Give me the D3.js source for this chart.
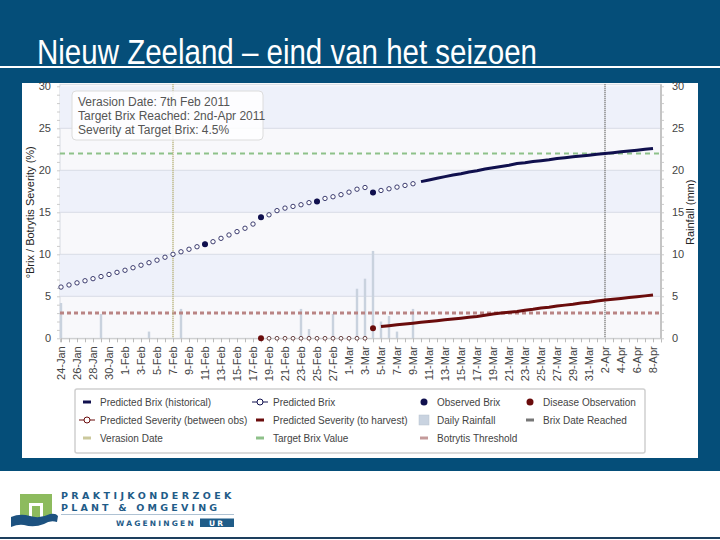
<!DOCTYPE html>
<html>
<head>
<meta charset="utf-8">
<script src="https://cdn.jsdelivr.net/npm/d3@7"></script>
<style>
body { margin: 0; background: #054e79; }
svg { display: block; font-family: "Liberation Sans", Arial, sans-serif; }
</style>
</head>
<body>
<script>
// series data
const predBrixStart = '2011-01-24';
const predBrix = [6.1, 6.35, 6.6, 6.85, 7.1, 7.35, 7.6, 7.85, 8.1, 8.4, 8.7, 9.0, 9.3, 9.65, 10.0,
  10.3, 10.6, 10.9, 11.2, 11.5, 11.9, 12.3, 12.7, 13.1, 13.6, 14.4, 14.7, 15.2, 15.5, 15.7,
  15.9, 16.15, 16.3, 16.65, 16.85, 17.1, 17.4, 17.75, 17.95, 17.35, 17.6, 17.8, 18.0, 18.2, 18.4];
const obsBrixDates = ['2011-02-11', '2011-02-18', '2011-02-25', '2011-03-04'];
const obsBrix = [11.2, 14.4, 16.3, 17.35];
const histBrixStart = '2011-03-10';
const histBrix = [18.65, 18.85, 19.05, 19.25, 19.45, 19.6, 19.8, 19.95, 20.15, 20.3,
  20.45, 20.6, 20.8, 20.9, 21.05, 21.15, 21.25, 21.4, 21.5, 21.6,
  21.7, 21.8, 21.9, 22.0, 22.1, 22.2, 22.3, 22.4, 22.5, 22.6];
const sevBetweenStart = '2011-02-19';
const sevBetween = [0, 0, 0, 0, 0, 0, 0, 0, 0, 0, 0, 0, 0];
const diseaseDates = ['2011-02-18', '2011-03-04'];
const diseaseSev = [0, 1.2];
const sevHarvestStart = '2011-03-05';
const sevHarvest = [1.4, 1.5, 1.6, 1.7, 1.8, 1.9, 2.0, 2.1, 2.2, 2.3, 2.4, 2.5, 2.6, 2.75, 2.9,
  3.0, 3.1, 3.2, 3.35, 3.45, 3.6, 3.7, 3.85, 3.95, 4.05, 4.2, 4.3, 4.45, 4.55, 4.65,
  4.75, 4.85, 4.95, 5.05, 5.15];
const rainDates = ['2011-01-24', '2011-01-29', '2011-02-04', '2011-02-08', '2011-02-23', '2011-02-24',
  '2011-02-27', '2011-03-02', '2011-03-03', '2011-03-04', '2011-03-05', '2011-03-06', '2011-03-07', '2011-03-09'];
const rainMm = [4.2, 2.9, 0.8, 3.5, 3.5, 1.1, 2.9, 5.9, 7.1, 10.4, 2.0, 2.65, 0.8, 3.5];
const verasionDate = '2011-02-07';
const brixReachedDate = '2011-04-02';
const targetBrix = 22;
const botrytisThreshold = 3;
const yTicks = [0, 5, 10, 15, 20, 25, 30];
const infoLines = ['Verasion Date: 7th Feb 2011', 'Target Brix Reached: 2nd-Apr 2011', 'Severity at Target Brix: 4.5%'];
const legendRows = [
  ['Predicted Brix (historical)', 'Predicted Brix', 'Observed Brix', 'Disease Observation'],
  ['Predicted Severity (between obs)', 'Predicted Severity (to harvest)', 'Daily Rainfall', 'Brix Date Reached'],
  ['Verasion Date', 'Target Brix Value', 'Botrytis Threshold']
];

const parse = d3.timeParse('%Y-%m-%d');
const daily = (start, vals) => vals.map((v, i) => [d3.timeDay.offset(parse(start), i), v]);

const W = 720, H = 540;
const blue = '#054e79';
const navy = '#10104e';
const darkRed = '#6a0c0c';

const svg = d3.select('body').append('svg').attr('width', W).attr('height', H);
svg.append('rect').attr('width', W).attr('height', H).attr('fill', blue);

// title
svg.append('text').attr('x', 37).attr('y', 64)
  .attr('font-size', 35).attr('fill', '#fff')
  .attr('textLength', 500).attr('lengthAdjust', 'spacingAndGlyphs')
  .text('Nieuw Zeeland \u2013 eind van het seizoen');
svg.append('rect').attr('x', 0).attr('y', 66).attr('width', W).attr('height', 2).attr('fill', '#fff');

// chart card
svg.append('rect').attr('x', 22).attr('y', 83).attr('width', 676).attr('height', 375).attr('fill', '#fff');

const x = d3.scaleTime()
  .domain([new Date(2011, 0, 23, 21), new Date(2011, 3, 9)])
  .range([60, 661]);
const y = d3.scaleLinear().domain([0, 30]).range([338.3, 86.3]);
const x0 = x.range()[0], x1 = x.range()[1];

const plot = svg.append('g');
plot.append('rect').attr('x', x0).attr('y', y(30) - 2).attr('width', x1 - x0).attr('height', y(0) - y(30) + 2)
  .attr('fill', '#f8f8fb').attr('stroke', '#d6dae2');
plot.selectAll('.band').data([5, 15, 25]).enter().append('rect')
  .attr('x', x0).attr('width', x1 - x0)
  .attr('y', d => y(d + 5)).attr('height', d => y(d) - y(d + 5))
  .attr('fill', '#eef1fa');
plot.selectAll('.grid').data(yTicks.slice(1, -1)).enter().append('line')
  .attr('x1', x0).attr('x2', x1).attr('y1', d => y(d)).attr('y2', d => y(d))
  .attr('stroke', '#d9dde6');

// rainfall bars
plot.selectAll('.rain').data(rainDates.map((d, i) => [parse(d), rainMm[i]])).enter().append('rect')
  .attr('x', d => x(d[0]) - 1.2).attr('width', 2.4)
  .attr('y', d => y(d[1])).attr('height', d => y(0) - y(d[1]))
  .attr('fill', '#c9d2de');

// reference lines
plot.append('line').attr('x1', x0).attr('x2', x1).attr('y1', y(targetBrix)).attr('y2', y(targetBrix))
  .attr('stroke', '#8ec18a').attr('stroke-width', 2).attr('stroke-dasharray', '5,4');
plot.append('line').attr('x1', x0).attr('x2', x1).attr('y1', y(botrytisThreshold)).attr('y2', y(botrytisThreshold))
  .attr('stroke', '#b98484').attr('stroke-width', 3).attr('stroke-dasharray', '4,3');
plot.append('line').attr('x1', x(parse(verasionDate))).attr('x2', x(parse(verasionDate)))
  .attr('y1', y(30) - 2).attr('y2', y(0))
  .attr('stroke', '#bfbb8a').attr('stroke-width', 2).attr('stroke-dasharray', '1,1');
plot.append('line').attr('x1', x(parse(brixReachedDate))).attr('x2', x(parse(brixReachedDate)))
  .attr('y1', y(30) - 2).attr('y2', y(0))
  .attr('stroke', '#8a8a8a').attr('stroke-width', 2).attr('stroke-dasharray', '1,1');

// info box
const info = svg.append('g');
info.append('rect').attr('x', 72).attr('y', 91).attr('width', 191).attr('height', 49).attr('rx', 4)
  .attr('fill', '#fff').attr('fill-opacity', 0.85).attr('stroke', '#dcdcdc');
info.selectAll('text').data(infoLines).enter().append('text')
  .attr('x', 78).attr('y', (d, i) => 106 + i * 14)
  .attr('font-size', 12).attr('fill', '#555').text(d => d);

// axes
const xAxisMinor = d3.axisBottom(x).ticks(d3.timeDay.every(1)).tickSize(4).tickFormat('');
const xg = svg.append('g').attr('transform', `translate(0,${y(0)})`).call(xAxisMinor);
xg.select('.domain').attr('stroke', '#c8c8c8');
xg.selectAll('.tick line').attr('stroke', '#bbb');

const labelDates = d3.timeDay.range(parse('2011-01-24'), parse('2011-04-09'), 2);
svg.selectAll('.xl').data(labelDates).enter().append('text')
  .attr('transform', d => `translate(${x(d) + 4},${y(0) + 8}) rotate(-90)`)
  .attr('text-anchor', 'end').attr('font-size', 11).attr('fill', '#444')
  .text(d3.timeFormat('%-d-%b'));

const yLeft = svg.append('g').attr('transform', `translate(${x0},0)`)
  .call(d3.axisLeft(y).tickValues(yTicks).tickSize(0).tickPadding(9));
yLeft.select('.domain').remove();
yLeft.selectAll('text').attr('font-size', 11).attr('fill', '#444').attr('font-family', 'Liberation Sans, Arial');
const yLeftMinor = svg.append('g').attr('transform', `translate(${x0},0)`)
  .call(d3.axisLeft(y).ticks(30).tickSize(3).tickFormat(''));
yLeftMinor.select('.domain').remove();
yLeftMinor.selectAll('line').attr('stroke', '#ccc');

const yRight = svg.append('g').attr('transform', `translate(${x1},0)`)
  .call(d3.axisRight(y).tickValues(yTicks).tickSize(0).tickPadding(11));
yRight.select('.domain').remove();
yRight.selectAll('text').attr('font-size', 11).attr('fill', '#444').attr('font-family', 'Liberation Sans, Arial');
const yRightMinor = svg.append('g').attr('transform', `translate(${x1},0)`)
  .call(d3.axisRight(y).ticks(30).tickSize(3).tickFormat(''));
yRightMinor.select('.domain').remove();
yRightMinor.selectAll('line').attr('stroke', '#ccc');
svg.append('line').attr('x1', x1).attr('x2', x1).attr('y1', y(30) - 2).attr('y2', y(0))
  .attr('stroke', '#c4c4c4').attr('stroke-width', 2);

svg.append('text').attr('transform', `translate(34,${(y(0) + y(30)) / 2}) rotate(-90)`)
  .attr('text-anchor', 'middle').attr('font-size', 11).attr('fill', '#222')
  .text('\u00b0Brix / Botrytis Severity (%)');
svg.append('text').attr('transform', `translate(694,${(y(0) + y(30)) / 2}) rotate(-90)`)
  .attr('text-anchor', 'middle').attr('font-size', 11).attr('fill', '#222')
  .text('Rainfall (mm)');

// series
const line = d3.line().x(d => x(d[0])).y(d => y(d[1]));
svg.append('path').datum(daily(histBrixStart, histBrix)).attr('d', line)
  .attr('fill', 'none').attr('stroke', navy).attr('stroke-width', 3);
svg.append('path').datum(daily(sevHarvestStart, sevHarvest)).attr('d', line)
  .attr('fill', 'none').attr('stroke', darkRed).attr('stroke-width', 3);

svg.selectAll('.pb').data(daily(predBrixStart, predBrix)).enter().append('circle')
  .attr('cx', d => x(d[0])).attr('cy', d => y(d[1])).attr('r', 2.2)
  .attr('fill', '#fff').attr('stroke', navy).attr('stroke-width', 0.8);
svg.selectAll('.sb').data(daily(sevBetweenStart, sevBetween)).enter().append('circle')
  .attr('cx', d => x(d[0])).attr('cy', d => y(d[1])).attr('r', 1.9)
  .attr('fill', '#fff').attr('stroke', '#4a1a1a').attr('stroke-width', 0.8);
svg.selectAll('.ob').data(obsBrixDates.map((d, i) => [parse(d), obsBrix[i]])).enter().append('circle')
  .attr('cx', d => x(d[0])).attr('cy', d => y(d[1])).attr('r', 3).attr('fill', navy);
svg.selectAll('.dz').data(diseaseDates.map((d, i) => [parse(d), diseaseSev[i]])).enter().append('circle')
  .attr('cx', d => x(d[0])).attr('cy', d => y(d[1])).attr('r', 3).attr('fill', darkRed);

// legend
const legendStyle = {
  'Predicted Brix (historical)': ['dash', navy],
  'Predicted Brix': ['hollow', navy],
  'Observed Brix': ['dot', navy],
  'Disease Observation': ['dot', darkRed],
  'Predicted Severity (between obs)': ['hollow', darkRed],
  'Predicted Severity (to harvest)': ['dash', darkRed],
  'Daily Rainfall': ['square', '#c9d3e0'],
  'Brix Date Reached': ['dash', '#777'],
  'Verasion Date': ['dash', '#cbc89c'],
  'Target Brix Value': ['dash', '#8ec18a'],
  'Botrytis Threshold': ['dash', '#c49a9a']
};
const colX = [100, 273, 437, 543];
const lg = svg.append('g');
lg.append('rect').attr('x', 75).attr('y', 389).attr('width', 570).attr('height', 64).attr('rx', 2)
  .attr('fill', '#fff').attr('stroke', '#cfcfcf').attr('stroke-width', 1.5);
legendRows.forEach((row, r) => {
  row.forEach((name, c) => {
    const g = lg.append('g').attr('transform', `translate(${colX[c]},${402 + r * 18})`);
    const [kind, col] = legendStyle[name];
    const sx = -13;
    if (kind === 'dash') {
      g.append('line').attr('x1', sx - 4).attr('x2', sx + 4).attr('stroke', col).attr('stroke-width', 3);
    } else if (kind === 'hollow') {
      g.append('line').attr('x1', sx - 8).attr('x2', sx + 8).attr('stroke', col).attr('stroke-width', 1);
      g.append('circle').attr('cx', sx).attr('r', 3).attr('fill', '#fff').attr('stroke', col);
    } else if (kind === 'dot') {
      g.append('circle').attr('cx', sx).attr('r', 3.5).attr('fill', col);
    } else {
      g.append('rect').attr('x', sx - 5).attr('y', -5).attr('width', 10).attr('height', 10)
        .attr('fill', col).attr('stroke', '#b8c2cf').attr('stroke-width', 0.5);
    }
    g.append('text').attr('y', 3.5).attr('font-size', 10).attr('fill', '#444').text(name);
  });
});

// footer with logo
svg.append('rect').attr('x', 0).attr('y', 471).attr('width', W).attr('height', 69).attr('fill', '#fff');
svg.append('rect').attr('x', 0).attr('y', 537).attr('width', W).attr('height', 2).attr('fill', '#1d3f5e');
const logo = svg.append('g');
logo.append('rect').attr('x', 20).attr('y', 494).attr('width', 32).attr('height', 25).attr('fill', '#8dbb5e');
logo.append('rect').attr('x', 29).attr('y', 503).attr('width', 14).attr('height', 16).attr('fill', '#fff');
logo.append('rect').attr('x', 32).attr('y', 506).attr('width', 8).attr('height', 13).attr('fill', '#8dbb5e');
logo.append('path')
  .attr('d', 'M11,517 Q20,513 30,516 Q40,519 50,514 Q56,513 58,516 L57,522 Q50,520 44,524 Q34,528 24,525 Q18,524 11,527 Z')
  .attr('fill', '#1d5280');
const logoText = [['PRAKTIJKONDERZOEK', 61, 499, 9.5, 3.4], ['PLANT & OMGEVING', 61, 511, 9.5, 3.2]];
logo.selectAll('.lt').data(logoText).enter().append('text')
  .attr('x', d => d[1]).attr('y', d => d[2]).attr('font-size', d => d[3])
  .attr('letter-spacing', d => d[4]).attr('font-weight', 'bold').attr('fill', '#1f5c88')
  .attr('font-family', 'DejaVu Sans, sans-serif').text(d => d[0]);
logo.append('line').attr('x1', 61).attr('x2', 234).attr('y1', 514.5).attr('y2', 514.5)
  .attr('stroke', '#9ab3c8').attr('stroke-width', 0.8);
logo.append('text').attr('x', 116).attr('y', 526).attr('font-size', 7.5).attr('letter-spacing', 2.2)
  .attr('font-weight', 'bold').attr('fill', '#1f5c88').attr('font-family', 'DejaVu Sans, sans-serif')
  .text('WAGENINGEN');
logo.append('rect').attr('x', 200).attr('y', 518.5).attr('width', 34).attr('height', 8.5).attr('fill', '#1f5c88');
logo.append('text').attr('x', 217).attr('y', 526).attr('text-anchor', 'middle').attr('font-size', 7.5)
  .attr('letter-spacing', 2).attr('font-weight', 'bold').attr('fill', '#fff')
  .attr('font-family', 'DejaVu Sans, sans-serif').text('UR');
</script>
</body>
</html>
